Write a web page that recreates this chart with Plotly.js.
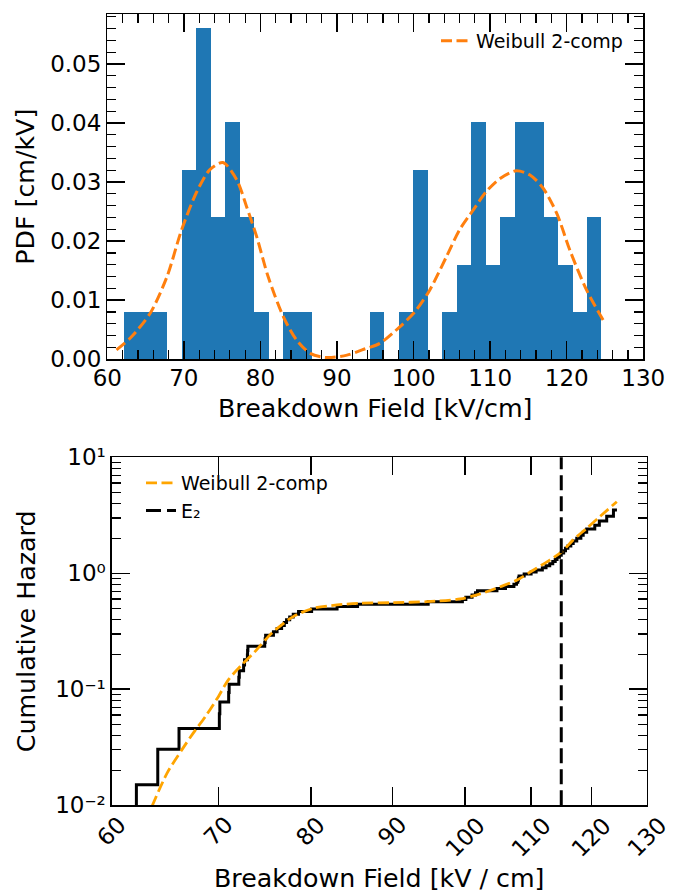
<!DOCTYPE html>
<html><head><meta charset="utf-8">
<script src="https://cdn.plot.ly/plotly-3.0.1.min.js"></script>
<style>html,body{margin:0;padding:0;background:#fff;} #chart{width:685px;height:892px;}</style>
</head><body><div id="chart"></div>
<script>
const breakdownField = [62.18, 64.13, 66.13, 70.10, 70.15, 71.05, 71.10, 72.10, 72.15, 72.60,
  72.70, 73.00, 73.02, 73.05, 74.85, 74.90, 74.95, 75.80, 76.20, 76.70,
  77.00, 77.25, 77.60, 78.00, 78.60, 80.10, 83.10, 85.60, 94.80, 99.60,
  100.10, 101.00, 101.50, 101.80, 104.70, 106.00, 107.30, 107.70, 107.90, 108.00,
  108.10, 108.90, 110.00, 110.80, 111.80, 112.40, 113.00, 113.50, 113.90, 114.20,
  114.60, 114.90, 115.30, 115.60, 116.00, 116.50, 116.90, 117.50, 118.20, 118.60,
  119.20, 120.60, 121.40, 122.70, 123.90, 124.53];
// Histogram bins
const binStart = 62.18, binEnd = 124.54, binSize = 1.8897;
// Empirical cumulative hazard level reached just before each sample (first is 0 -> below the log axis)
const hazardLevel = [0.0001, 0.01504, 0.03031, 0.04581, 0.06156, 0.07756, 0.09382, 0.11035, 0.12716, 0.14425,
  0.16164, 0.17934, 0.19736, 0.21571, 0.23440, 0.25345, 0.27287, 0.29267, 0.31287, 0.33349,
  0.35455, 0.37605, 0.39803, 0.42050, 0.44349, 0.46702, 0.49112, 0.51581, 0.54113, 0.56711,
  0.59378, 0.62117, 0.64935, 0.67833, 0.70819, 0.73896, 0.77071, 0.80350, 0.83740, 0.87249,
  0.90886, 0.94660, 0.98582, 1.02664, 1.06920, 1.11365, 1.16017, 1.20896, 1.26025, 1.31432,
  1.37148, 1.43210, 1.49664, 1.56564, 1.63974, 1.71979, 1.80680, 1.90211, 2.00747, 2.12525,
  2.25878, 2.41293, 2.59526, 2.81840, 3.10608, 3.51155];
// Weibull 2-component PDF curve
const pdfFitX = [61.2, 63.0, 65.6, 67.8, 69.7, 71.7, 73.4, 75.1, 76.9, 78.2, 79.5, 81.0, 83.0, 84.7, 86.5,
  88.6, 91.3, 93.5, 95.6, 98.2, 100.2, 102.1, 104.3, 106.0, 107.8, 109.5, 111.3, 113.4, 115.2,
  116.9, 118.7, 120.4, 122.6, 125.0];
const pdfFitY = [0.0016, 0.0036, 0.0078, 0.0140, 0.0219, 0.0284, 0.0321, 0.0333, 0.0304, 0.0258, 0.0208,
  0.0140, 0.0072, 0.0033, 0.0010, 0.0003, 0.0007, 0.0017, 0.0027, 0.0055, 0.0081, 0.0117, 0.0174,
  0.0219, 0.0253, 0.0284, 0.0306, 0.0319, 0.0312, 0.0290, 0.0247, 0.0185, 0.0117, 0.0061];
// Weibull 2-component cumulative hazard curve
const hazFitX = [63.6, 65.0, 66.4, 67.5, 68.7, 70.0, 71.0, 72.4, 73.8, 75.6, 78.0, 80.3, 83.1, 85.9,
  90.2, 94.6, 99.3, 102.2, 105.2, 107.8, 110.4, 113.0, 115.0, 116.9, 119.2, 121.5, 124.5];
const hazFitY = [0.0098, 0.0189, 0.0300, 0.0418, 0.0581, 0.0863, 0.120, 0.162, 0.211, 0.304, 0.423,
  0.499, 0.533, 0.551, 0.558, 0.569, 0.600, 0.664, 0.766, 0.876, 1.068, 1.30, 1.535, 1.94, 2.44, 3.08, 4.14];
const e2Field = 114.9;
// Axis ticks and labels
const topXTicks = [60, 70, 80, 90, 100, 110, 120, 130];
const botXTicks = [60, 70, 80, 90, 100, 110, 120, 130];
const botYTicks = [0.01, 0.1, 1, 10];
const botYTickText = ['10\u207B\u00B2', '10\u207B\u00B9', '10\u2070', '10\u00B9'];
const botYMinor = [0.02,0.03,0.04,0.05,0.06,0.07,0.08,0.09,0.2,0.3,0.4,0.5,0.6,0.7,0.8,0.9,2,3,4,5,6,7,8,9];
const labels = {
  topX: 'Breakdown Field [kV/cm]', topY: 'PDF [cm/kV]',
  botX: 'Breakdown Field [kV / cm]', botY: 'Cumulative Hazard',
  fit: 'Weibull 2-comp', e2: 'E\u2082'
};

const W = 685, H = 892;
const FONT = 'DejaVu Sans, sans-serif';
const TICK_SIZE = 23, TITLE_SIZE = 25.3, LEG_SIZE = 19;
const topDomX = [107.3 / W, 643.3 / W], topDomY = [1 - 359.3 / H, 1 - 14.3 / H];
const botDomX = [111.7 / W, 646.7 / W], botDomY = [1 - 805.2 / H, 1 - 457.3 / H];

const tickCommon = {
  ticks: 'inside', ticklen: 18, tickwidth: 1.5, tickcolor: '#000',
  showline: true, linecolor: '#000', linewidth: 1.3, mirror: 'allticks',
  showgrid: false, zeroline: false, tickfont: {family: FONT, size: TICK_SIZE, color: '#000'}
};
const minorCommon = {ticks: 'inside', ticklen: 9, tickwidth: 1.2, tickcolor: '#000', showgrid: false};
const titleFont = {family: FONT, size: TITLE_SIZE, color: '#000'};

const traces = [
  {type: 'histogram', x: breakdownField, xaxis: 'x', yaxis: 'y',
   xbins: {start: binStart, end: binEnd, size: binSize}, histnorm: 'probability density',
   marker: {color: '#1f77b4', line: {width: 0}}, showlegend: false},
  {type: 'scatter', mode: 'lines', x: pdfFitX, y: pdfFitY, xaxis: 'x', yaxis: 'y',
   name: labels.fit, line: {color: '#ff7f0e', width: 3, dash: '11px,4.5px', shape: 'spline', smoothing: 0.8},
   legend: 'legend'},
  {type: 'scatter', mode: 'lines', x: breakdownField, y: hazardLevel, xaxis: 'x2', yaxis: 'y2',
   line: {color: '#000', width: 3, shape: 'vh'}, showlegend: false},
  {type: 'scatter', mode: 'lines', x: hazFitX, y: hazFitY, xaxis: 'x2', yaxis: 'y2',
   name: labels.fit, line: {color: '#FFA500', width: 2.8, dash: '11px,4.5px', shape: 'spline', smoothing: 0.8},
   legend: 'legend2', legendrank: 1}
];

const annotations = botXTicks.map(v => ({
  xref: 'x2', yref: 'paper', x: Math.log10(v), y: botDomY[0], yshift: -4,
  text: String(v), textangle: -45, xanchor: 'center', yanchor: 'top', showarrow: false,
  font: {family: FONT, size: TICK_SIZE, color: '#000'}
}));
annotations.push(
  {xref: 'paper', yref: 'paper', x: (topDomX[0] + topDomX[1]) / 2, y: 1 - 408 / H,
   text: labels.topX, xanchor: 'center', yanchor: 'middle', showarrow: false, font: titleFont},
  {xref: 'paper', yref: 'paper', x: 26 / W, y: (topDomY[0] + topDomY[1]) / 2,
   text: labels.topY, textangle: -90, xanchor: 'center', yanchor: 'middle', showarrow: false, font: titleFont},
  {xref: 'paper', yref: 'paper', x: (botDomX[0] + botDomX[1]) / 2, y: 1 - 878 / H,
   text: labels.botX, xanchor: 'center', yanchor: 'middle', showarrow: false, font: titleFont},
  {xref: 'paper', yref: 'paper', x: 26 / W, y: (botDomY[0] + botDomY[1]) / 2,
   text: labels.botY, textangle: -90, xanchor: 'center', yanchor: 'middle', showarrow: false, font: titleFont}
);

const layout = {
  width: W, height: H, margin: {l: 0, r: 0, t: 0, b: 0},
  paper_bgcolor: '#fff', plot_bgcolor: '#fff', hovermode: false,
  font: {family: FONT, color: '#000'},
  bargap: 0,
  xaxis: Object.assign({}, tickCommon, {domain: topDomX, anchor: 'y', range: [60, 130], tickvals: topXTicks,
    ticklabelstandoff: -2, minor: Object.assign({}, minorCommon, {dtick: 2, tick0: 60})}),
  yaxis: Object.assign({}, tickCommon, {domain: topDomY, anchor: 'x', range: [0, 0.0584], dtick: 0.01, tick0: 0,
    tickformat: '.2f', minor: Object.assign({}, minorCommon, {dtick: 0.002, tick0: 0})}),
  xaxis2: Object.assign({}, tickCommon, {domain: botDomX, anchor: 'y2', type: 'log',
    range: [Math.log10(60), Math.log10(130)], tickvals: botXTicks, showticklabels: false}),
  yaxis2: Object.assign({}, tickCommon, {domain: botDomY, anchor: 'x2', type: 'log', range: [-2, 1],
    tickvals: botYTicks, ticktext: botYTickText,
    minor: Object.assign({}, minorCommon, {tickvals: botYMinor})}),
  legend: {x: 436 / W, y: 1 - 22 / H, xanchor: 'left', yanchor: 'top', bgcolor: 'rgba(0,0,0,0)',
    borderwidth: 0, font: {family: FONT, size: LEG_SIZE, color: '#000'}},
  legend2: {x: 141 / W, y: 1 - 464 / H, xanchor: 'left', yanchor: 'top', bgcolor: 'rgba(0,0,0,0)',
    borderwidth: 0, font: {family: FONT, size: LEG_SIZE, color: '#000'}, traceorder: 'normal'},
  shapes: [{type: 'line', xref: 'x2', yref: 'y2 domain', x0: e2Field, x1: e2Field,
    y0: 0, y1: 1, line: {color: '#000', width: 3, dash: '15px,6px'},
    showlegend: true, name: labels.e2, legend: 'legend2', legendrank: 2}],
  annotations: annotations
};

Plotly.newPlot('chart', traces, layout, {staticPlot: true, displayModeBar: false});
</script>
</body></html>
